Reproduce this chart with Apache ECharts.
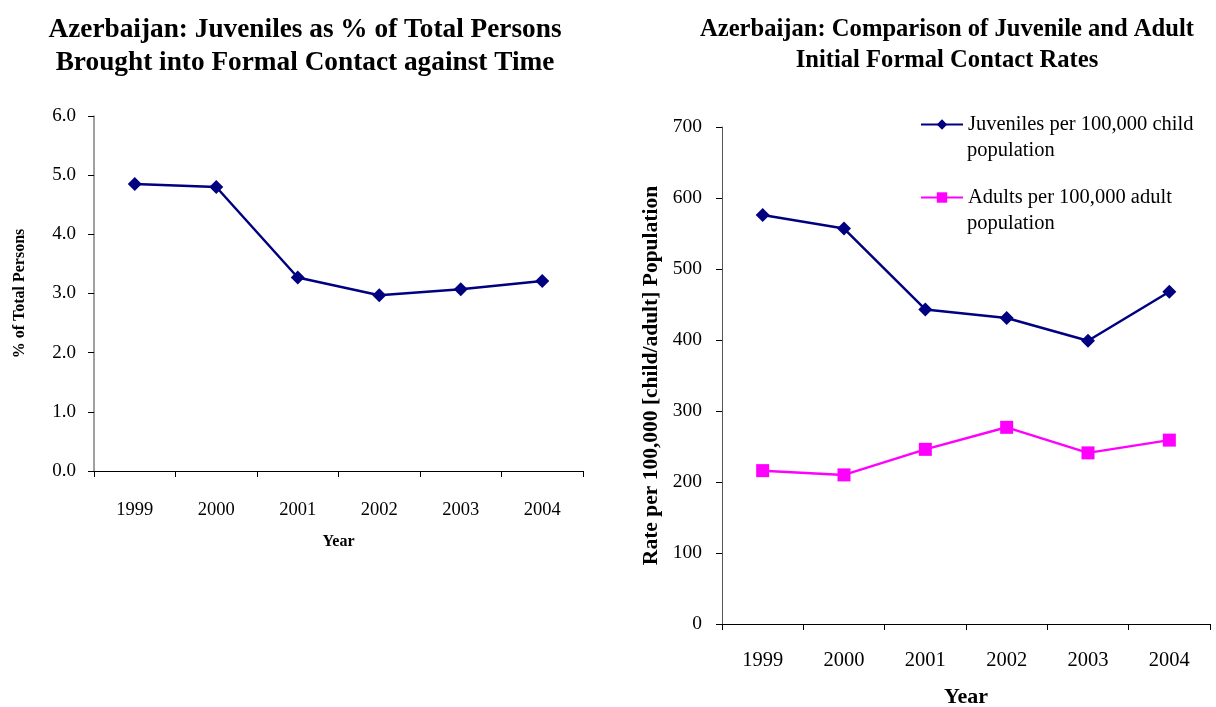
<!DOCTYPE html>
<html>
<head>
<meta charset="utf-8">
<script src="https://cdn.jsdelivr.net/npm/echarts@6/dist/echarts.min.js"></script>
<style>
  html, body { margin: 0; padding: 0; background: #fff; }
  #chart { width: 1216px; height: 707px; }
</style>
</head>
<body>
<div id="chart"></div>
<script>
// Years shared by both panels
var years = ['1999', '2000', '2001', '2002', '2003', '2004'];

// Left panel: juveniles as a share of all persons brought into formal contact (%)
var juvenileShare = [4.85, 4.80, 3.27, 2.97, 3.07, 3.21];

// Right panel: initial formal contact rates per 100,000 of the relevant population
var juvenileRate = [576, 557, 443, 431, 399, 468];
var adultRate = [216, 210, 246, 277, 241, 259];

var SERIF = '"Liberation Serif", "Times New Roman", serif';
var NAVY = '#000080';
var MAGENTA = '#FF00FF';

var chart = echarts.init(document.getElementById('chart'), null, { renderer: 'canvas' });

function catAxis(gridIndex, nameGap, nameSize, labelSize, labelMargin) {
  return {
    type: 'category',
    gridIndex: gridIndex,
    data: years,
    boundaryGap: true,
    name: 'Year',
    nameLocation: 'middle',
    nameGap: nameGap,
    nameTextStyle: { fontFamily: SERIF, fontWeight: 'bold', fontSize: nameSize, color: '#000' },
    axisLine: { lineStyle: { color: '#000', width: 1 } },
    axisTick: { show: true, length: 6, alignWithLabel: false, lineStyle: { color: '#000' } },
    axisLabel: { fontFamily: SERIF, fontSize: labelSize, color: '#000', margin: labelMargin },
    splitLine: { show: false }
  };
}

chart.setOption({
  backgroundColor: '#fff',
  animation: false,
  title: [
    {
      text: 'Azerbaijan: Juveniles as % of Total Persons\nBrought into Formal Contact against Time',
      left: 305, top: 13, padding: 0, textAlign: 'center',
      textStyle: { fontFamily: SERIF, fontWeight: 'bold', fontSize: 27.3, lineHeight: 33, color: '#000' }
    },
    {
      text: 'Azerbaijan: Comparison of Juvenile and Adult\nInitial Formal Contact Rates',
      left: 947, top: 14, padding: 0, textAlign: 'center',
      textStyle: { fontFamily: SERIF, fontWeight: 'bold', fontSize: 24.6, lineHeight: 31, color: '#000' }
    }
  ],
  legend: {
    orient: 'vertical',
    left: 920, top: 114,
    padding: 0,
    itemWidth: 42, itemHeight: 13,
    itemGap: 52,
    data: [
      { name: 'Juveniles per 100,000 child population' },
      { name: 'Adults per 100,000 adult population' }
    ],
    formatter: function (name) {
      return name.replace(' population', '');
    },
    textStyle: { fontFamily: SERIF, fontSize: 20.5, color: '#000' }
  },
  graphic: [
    { type: 'text', left: 967, top: 140, style: { text: 'population', font: '20.5px ' + SERIF, fill: '#000' } },
    { type: 'text', left: 967, top: 213, style: { text: 'population', font: '20.5px ' + SERIF, fill: '#000' } }
  ],
  grid: [
    { left: 94, top: 116, width: 489, height: 355, outerBoundsMode: 'none' },
    { left: 722, top: 127, width: 488, height: 497, outerBoundsMode: 'none' }
  ],
  xAxis: [
    catAxis(0, 63, 16, 18.5, 30),
    catAxis(1, 62, 22, 20.5, 26)
  ],
  yAxis: [
    {
      type: 'value', gridIndex: 0,
      min: 0, max: 6, interval: 1,
      name: '% of Total Persons',
      nameLocation: 'middle', nameGap: 66, nameRotate: 90,
      nameTextStyle: { fontFamily: SERIF, fontWeight: 'bold', fontSize: 16, color: '#000' },
      axisLine: { show: true, lineStyle: { color: '#808080', width: 1.5 } },
      axisTick: { show: true, length: 6, lineStyle: { color: '#000' } },
      axisLabel: { fontFamily: SERIF, fontSize: 19, color: '#000', margin: 18,
        formatter: function (v) { return v.toFixed(1); } },
      splitLine: { show: false }
    },
    {
      type: 'value', gridIndex: 1,
      min: 0, max: 700, interval: 100,
      name: 'Rate per 100,000 [child/adult] Population',
      nameLocation: 'middle', nameGap: 60, nameRotate: 90,
      nameTextStyle: { fontFamily: SERIF, fontWeight: 'bold', fontSize: 21.5, color: '#000' },
      axisLine: { show: true, lineStyle: { color: '#555', width: 1 } },
      axisTick: { show: true, length: 6, lineStyle: { color: '#000' } },
      axisLabel: { fontFamily: SERIF, fontSize: 19.5, color: '#000', margin: 20 },
      splitLine: { show: false }
    }
  ],
  series: [
    {
      name: 'Juvenile share', type: 'line',
      xAxisIndex: 0, yAxisIndex: 0,
      data: juvenileShare,
      symbol: 'diamond', symbolSize: 14,
      lineStyle: { color: NAVY, width: 2.5 },
      itemStyle: { color: NAVY }
    },
    {
      name: 'Juveniles per 100,000 child population', type: 'line',
      xAxisIndex: 1, yAxisIndex: 1,
      data: juvenileRate,
      symbol: 'diamond', symbolSize: 14,
      lineStyle: { color: NAVY, width: 2.5 },
      itemStyle: { color: NAVY }
    },
    {
      name: 'Adults per 100,000 adult population', type: 'line',
      xAxisIndex: 1, yAxisIndex: 1,
      data: adultRate,
      symbol: 'rect', symbolSize: 13,
      lineStyle: { color: MAGENTA, width: 2.5 },
      itemStyle: { color: MAGENTA }
    }
  ]
});
</script>
</body>
</html>
